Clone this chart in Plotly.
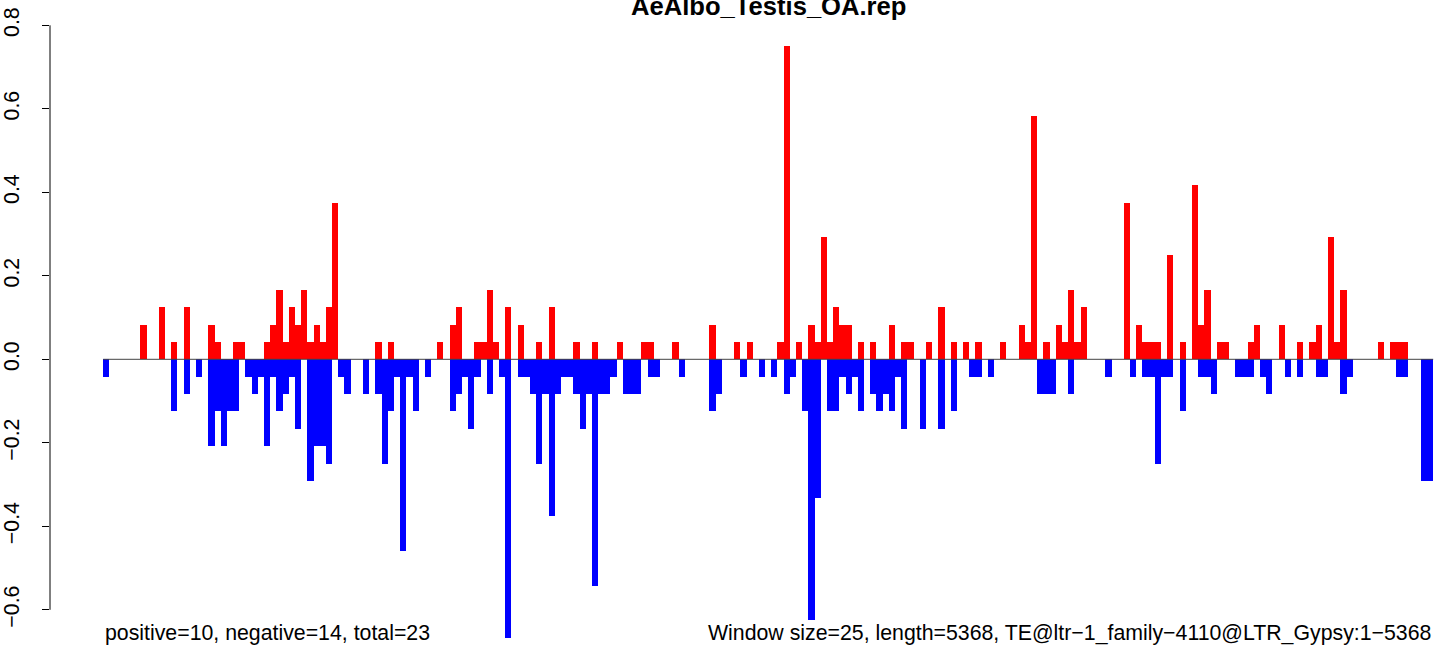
import plotly.graph_objects as go

title_text = "AeAlbo_Testis_OA.rep"
left_note = "positive=10, negative=14, total=23"
right_note = "Window size=25, length=5368, TE@ltr\u22121_family\u22124110@LTR_Gypsy:1\u22125368"

pos_values = [
    0, 0, 0, 0, 0, 0, 0.083, 0, 0, 0.125,
    0, 0.042, 0, 0.125, 0, 0, 0, 0.083, 0.042, 0,
    0, 0.042, 0.042, 0, 0, 0, 0.042, 0.083, 0.167, 0.042,
    0.125, 0.083, 0.167, 0.042, 0.083, 0.042, 0.125, 0.375, 0, 0,
    0, 0, 0, 0, 0.042, 0, 0.042, 0, 0, 0,
    0, 0, 0, 0, 0.042, 0, 0.083, 0.125, 0, 0,
    0.042, 0.042, 0.167, 0.042, 0, 0.125, 0, 0.083, 0, 0,
    0.042, 0, 0.125, 0, 0, 0, 0.042, 0, 0, 0.042,
    0, 0, 0, 0.042, 0, 0, 0, 0.042, 0.042, 0,
    0, 0, 0.042, 0, 0, 0, 0, 0, 0.083, 0,
    0, 0, 0.042, 0, 0.042, 0, 0, 0, 0, 0.042,
    0.75, 0, 0.042, 0, 0.083, 0.042, 0.292, 0.042, 0.125, 0.083,
    0.083, 0, 0.042, 0, 0.042, 0, 0, 0.083, 0, 0.042,
    0.042, 0, 0, 0.042, 0, 0.125, 0, 0.042, 0, 0.042,
    0, 0.042, 0, 0, 0, 0.042, 0, 0, 0.083, 0.042,
    0.583, 0, 0.042, 0, 0.083, 0.042, 0.167, 0.042, 0.125, 0,
    0, 0, 0, 0, 0, 0.375, 0, 0.083, 0.042, 0.042,
    0.042, 0, 0.25, 0, 0.042, 0, 0.417, 0.083, 0.167, 0,
    0.042, 0.042, 0, 0, 0, 0.042, 0.083, 0, 0, 0,
    0.083, 0, 0, 0.042, 0, 0.042, 0.083, 0, 0.292, 0.042,
    0.167, 0, 0, 0, 0, 0, 0.042, 0, 0.042, 0.042,
    0.042, 0, 0, 0, 0,
]

neg_values = [
    -0.042, 0, 0, 0, 0, 0, 0, 0, 0, 0,
    0, -0.125, 0, -0.083, 0, -0.042, 0, -0.208, -0.125, -0.208,
    -0.125, -0.125, 0, -0.042, -0.083, -0.042, -0.208, -0.042, -0.125, -0.083,
    -0.042, -0.167, 0, -0.292, -0.208, -0.208, -0.25, 0, -0.042, -0.083,
    0, 0, -0.083, 0, -0.083, -0.25, -0.125, -0.042, -0.458, -0.042,
    -0.125, 0, -0.042, 0, 0, 0, -0.125, -0.083, -0.042, -0.167,
    -0.042, 0, -0.083, 0, -0.042, -0.667, 0, -0.042, -0.042, -0.083,
    -0.25, -0.083, -0.375, -0.083, -0.042, -0.042, -0.083, -0.167, -0.083, -0.542,
    -0.083, -0.083, -0.042, 0, -0.083, -0.083, -0.083, 0, -0.042, -0.042,
    0, 0, 0, -0.042, 0, 0, 0, 0, -0.125, -0.083,
    0, 0, 0, -0.042, 0, 0, -0.042, 0, -0.042, 0,
    -0.083, -0.042, 0, -0.125, -0.625, -0.333, 0, -0.125, -0.125, -0.042,
    -0.083, -0.042, -0.125, 0, -0.083, -0.125, -0.083, -0.125, -0.042, -0.167,
    0, 0, -0.167, 0, 0, -0.167, 0, -0.125, 0, 0,
    -0.042, -0.042, 0, -0.042, 0, 0, 0, 0, 0, 0,
    0, -0.083, -0.083, -0.083, 0, 0, -0.083, 0, 0, 0,
    0, 0, -0.042, 0, 0, 0, -0.042, 0, -0.042, -0.042,
    -0.25, -0.042, -0.042, 0, -0.125, 0, 0, -0.042, -0.042, -0.083,
    0, 0, 0, -0.042, -0.042, -0.042, 0, -0.042, -0.083, 0,
    0, -0.042, 0, -0.042, 0, 0, -0.042, -0.042, 0, 0,
    -0.083, -0.042, 0, 0, 0, 0, 0, 0, 0, -0.042,
    -0.042, 0, 0, -0.292, -0.292,
]

y_tick_vals = [-0.6, -0.4, -0.2, 0.0, 0.2, 0.4, 0.6, 0.8]
y_tick_text = ["\u22120.6", "\u22120.4", "\u22120.2", "0.0", "0.2", "0.4", "0.6", "0.8"]

n = len(pos_values)
x_centers = [i + 0.5 for i in range(n)]

W, H = 1441, 647
ML = 50
px_per_bar = 1330 / n
x0 = -0.04 * n
x1 = x0 + (W - ML) / px_per_bar
px_per_unit = 417.5
zero_px = 359.3
y_top = zero_px / px_per_unit
y_bot = -(H - zero_px) / px_per_unit

FONT = "Liberation Sans, Arial, Helvetica, sans-serif"

fig = go.Figure()
fig.add_trace(go.Bar(x=x_centers, y=pos_values, width=1.0,
                     marker=dict(color="#FF0000", line=dict(width=0)),
                     showlegend=False, hoverinfo="skip"))
fig.add_trace(go.Bar(x=x_centers, y=neg_values, width=1.0,
                     marker=dict(color="#0000FF", line=dict(width=0)),
                     showlegend=False, hoverinfo="skip"))

# zero line
fig.add_shape(type="line", x0=0, x1=n, y0=0, y1=0, xref="x", yref="y",
              line=dict(color="#444444", width=1), layer="above")
# y axis line (only between first and last tick, like R)
fig.add_shape(type="line", x0=0, x1=0, y0=min(y_tick_vals), y1=max(y_tick_vals),
              xref="paper", yref="y", line=dict(color="black", width=1))

fig.add_annotation(text="<b>" + title_text + "</b>", xref="paper", yref="paper",
                   x=(768 - ML) / (W - ML), y=1, xanchor="center", yanchor="top",
                   yshift=10, showarrow=False,
                   font=dict(family=FONT, size=25.6, color="black"))
fig.add_annotation(text=left_note, xref="paper", yref="paper",
                   x=(103 - ML) / (W - ML), y=0, xanchor="left", yanchor="bottom",
                   yshift=0, showarrow=False,
                   font=dict(family=FONT, size=21.3, color="black"))
fig.add_annotation(text=right_note, xref="paper", yref="paper",
                   x=(1433 - ML) / (W - ML), y=0, xanchor="right", yanchor="bottom",
                   yshift=0, showarrow=False,
                   font=dict(family=FONT, size=21.3, color="black"))

fig.update_layout(
    width=W, height=H,
    margin=dict(l=ML, r=0, t=0, b=0, autoexpand=False),
    paper_bgcolor="white", plot_bgcolor="white",
    barmode="overlay", bargap=0,
    hovermode=False,
    xaxis=dict(range=[x0, x1], showgrid=False, zeroline=False, showline=False,
               showticklabels=False, ticks="", automargin=False),
    yaxis=dict(range=[y_bot, y_top], showgrid=False, zeroline=False, showline=False,
               tickmode="array", tickvals=y_tick_vals, ticktext=y_tick_text,
               ticks="outside", ticklen=7, tickwidth=1, tickcolor="black",
               tickangle=-90, ticklabelstandoff=14, automargin=False,
               tickfont=dict(family=FONT, size=21.3, color="black")),
)

fig.write_html("out.html", config={"displayModeBar": False, "staticPlot": True},
               post_script="document.body.style.margin='0px';")
